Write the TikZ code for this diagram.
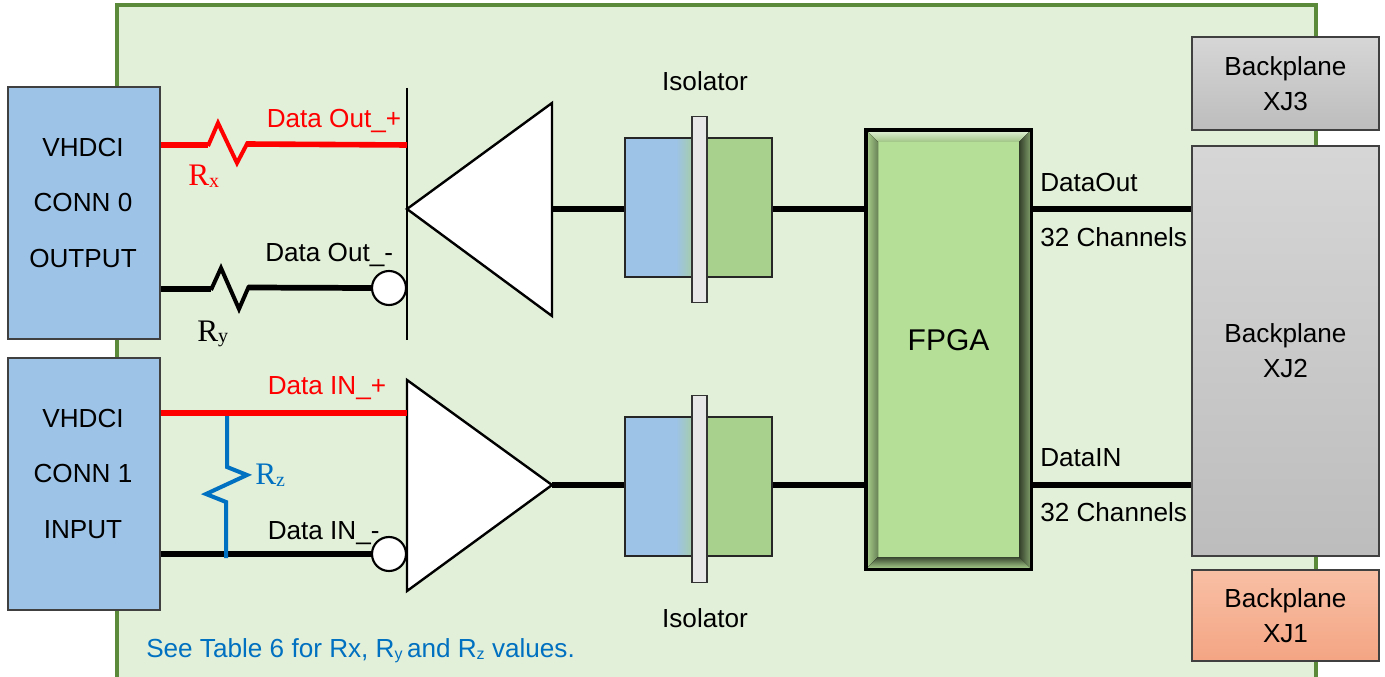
\documentclass[tikz,border=0pt]{standalone}
\usepackage{fontspec}
\setmainfont{Liberation Sans}
\newfontfamily\serifrm{Liberation Serif}
\definecolor{panelfill}{HTML}{E2EFD9}
\definecolor{panelline}{HTML}{5B8A3A}
\definecolor{connblue}{HTML}{9DC3E6}
\definecolor{isogreen}{HTML}{A9D18E}
\definecolor{barfill}{HTML}{E7E7E7}
\definecolor{fpgafill}{HTML}{B5DF96}
\definecolor{rzblue}{HTML}{0070C0}
\definecolor{salmontop}{HTML}{F8BFA5}
\definecolor{salmonbot}{HTML}{F4A583}
\newcommand{\txt}{\fontsize{19.6}{19.6}\selectfont}
\newcommand{\Rsym}[1]{{\serifrm\fontsize{23.5}{23.5}\selectfont R\raisebox{-1.5pt}{\fontsize{15}{15}\selectfont #1}}}
\newcommand{\rsm}[1]{{\txt R\raisebox{-2pt}{\fontsize{12}{12}\selectfont #1}}}
\tikzset{
  x=0.75pt,y=-0.75pt,
  connbox/.style={draw=black!75,line width=1pt,fill=connblue,inner sep=0pt,minimum width=114pt,minimum height=189pt},
  bpbox/.style={draw=black!75,line width=1pt,inner sep=0pt,minimum width=140.25pt},
  bpgray/.style={bpbox,top color=black!16,bottom color=black!26},
  bporange/.style={bpbox,top color=salmontop,bottom color=salmonbot},
  isobox/.style={draw=black!85,line width=0.8pt,inner sep=0pt,minimum width=110.25pt,minimum height=104.25pt},
  isobar/.style={draw=black!80,line width=0.8pt,fill=barfill,inner sep=0pt,minimum width=11.25pt,minimum height=140pt},
  bubble/.style={circle,draw=black,line width=1.6pt,fill=white,inner sep=0pt,minimum size=25.5pt},
  amp/.style={draw=black,line width=1.8pt,fill=white,line join=miter},
  wire/.style={line width=4.3pt,black},
  redwire/.style={line width=4.2pt,red},
  thinres/.style={line width=3pt,line join=miter},
  lab/.style={inner sep=0pt,anchor=base west,font=\txt},
  clab/.style={inner sep=0pt,font=\txt},
  stack3/.style={inner sep=0pt,align=center,font=\fontsize{19.6}{41.6}\selectfont},
  stack2/.style={inner sep=0pt,align=center,font=\fontsize{19.6}{26.2}\selectfont},
  fpgaline/.style={draw=black,line width=2.3pt},
}
\begin{document}
\begin{tikzpicture}
\useasboundingbox (0,0) rectangle (1385,677);
% board
\node[draw=panelline,line width=3pt,fill=panelfill,inner sep=0pt,minimum width=899.25pt,minimum height=505.2pt] (board) at (716.5,341.8) {};

% FPGA with bevel
\node[fill=fpgafill,inner sep=0pt,outer sep=0pt,minimum width=124.1pt,minimum height=329.6pt] (fpga) at (948.75,349.75) {};
\fill[top color=fpgafill!35!white,bottom color=fpgafill!88!black] (866,130) -- (1031,130) -- (1019,142) -- (878,142) -- cycle;
\fill[left color=fpgafill!95!black,right color=fpgafill!58!black] (866,130) -- (878,142) -- (878,557) -- (866,569) -- cycle;
\fill[left color=fpgafill!28!black,right color=fpgafill!72!black] (1019,142) -- (1031,130) -- (1031,569) -- (1019,557) -- cycle;
\fill[top color=fpgafill!32!black,bottom color=fpgafill!95!black] (878,557) -- (1019,557) -- (1031,569) -- (866,569) -- cycle;
\draw[fpgaline] (fpga.north west) rectangle (fpga.south east);
\node[inner sep=0pt,font=\fontsize{22.5}{22.5}\selectfont] (fpgatext) at (948.5,340) {FPGA};

% isolators
\fill[connblue] (625,138) rectangle (677,277);
\fill[left color=connblue,right color=isogreen] (676.5,138) rectangle (700,277);
\fill[isogreen] (700,138) rectangle (772,277);
\node[isobox] (iso1) at (698.5,207.5) {};
\node[isobar] (bar1) at (699.5,209.5) {};
\fill[connblue] (625,417) rectangle (677,556);
\fill[left color=connblue,right color=isogreen] (676.5,417) rectangle (700,556);
\fill[isogreen] (700,417) rectangle (772,556);
\node[isobox] (iso2) at (698.5,486.5) {};
\node[isobar] (bar2) at (699.5,489) {};
\node[clab] (isoL1) at (705,81) {Isolator};
\node[clab] (isoL2) at (705,618) {Isolator};

% connectors and backplanes
\node[connbox] (conn0) at (84,213) {};
\node[stack3] (conn0t) at (83,203) {VHDCI\\CONN 0\\OUTPUT};
\node[connbox] (conn1) at (84,484) {};
\node[stack3] (conn1t) at (83,474) {VHDCI\\CONN 1\\INPUT};
\node[bpgray,minimum height=69.75pt] (xj3) at (1285.5,83.5) {};
\node[stack2] (xj3t) at (1285.5,84) {Backplane\\XJ3};
\node[bpgray,minimum height=307.5pt] (xj2) at (1285.5,351) {};
\node[stack2] (xj2t) at (1285.5,351) {Backplane\\XJ2};
\node[bporange,minimum height=68.25pt] (xj1) at (1285.5,615.5) {};
\node[stack2] (xj1t) at (1285.5,616) {Backplane\\XJ1};

% driver
\coordinate (drvTop) at (407,88);
\coordinate (drvBot) at (407,340);
\coordinate (drvApex) at (407,209);
\coordinate (drvA) at (552,103);
\coordinate (drvB) at (552,316);
\draw[line width=2pt] (drvTop) -- (drvBot);
\draw[amp] (drvApex) -- (drvA) -- (drvB) -- cycle;
% receiver
\coordinate (recA) at (407,380);
\coordinate (recB) at (407,591);
\coordinate (recApex) at (552,485);
\draw[amp] (recA) -- (recApex) -- (recB) -- cycle;

% data wires
\draw[wire] (drvA |- drvApex) -- (iso1.west |- drvApex);
\draw[wire] (iso1.east |- drvApex) -- (fpga.west |- drvApex);
\draw[wire] (fpga.east |- drvApex) -- (xj2.west |- drvApex);
\draw[wire] (recApex) -- (iso2.west |- recApex);
\draw[wire] (iso2.east |- recApex) -- (fpga.west |- recApex);
\draw[wire] (fpga.east |- recApex) -- (xj2.west |- recApex);

% inverting bubbles
\node[bubble] (bub1) at (389,288) {};
\node[bubble] (bub2) at (389,554) {};

% Rx
\coordinate (rxS) at (conn0.east |- 0,145);
\coordinate (rxE) at (drvTop |- 0,145);
\draw[redwire] (rxS) -- (208,145);
\draw[red,thinres] (208,146) -- (218,123) -- (237,163) -- (248,142);
\draw[redwire] (247,144) -- (rxE);
% Ry
\coordinate (ryS) at (conn0.east |- 0,289);
\draw[wire] (ryS) -- (211,289);
\draw[black,thinres] (211,290) -- (221,268) -- (239,309) -- (249,286);
\draw[wire] (248,287.5) -- (bub1.west);
% input wires
\coordinate (inPs) at (conn1.east |- 0,413);
\coordinate (inPe) at (recA |- 0,413);
\coordinate (inNs) at (conn1.east |- bub2);
\draw[wire] (inNs) -- (bub2.west);
\draw[rzblue,line width=3pt,line join=miter] (227,413) -- (227,467) -- (247,475) -- (206,494) -- (226,502) -- (226,558);
\draw[redwire] (inPs) -- (inPe);

% labels
\node[lab,text=red] (lDOp) at (266.5,127.5) {Data Out\_+};
\node[lab] (lDOm) at (265,262) {Data Out\_-};
\node[lab,text=red] (lDIp) at (267.5,394) {Data IN\_+};
\node[lab] (lDIm) at (267.5,539) {Data IN\_-};
\node[lab] (lDO) at (1040,192) {DataOut};
\node[lab] (lC1) at (1040,247) {32 Channels};
\node[lab] (lDI) at (1040,466) {DataIN};
\node[lab] (lC2) at (1040,521) {32 Channels};
\node[inner sep=0pt,anchor=base west,text=red] (lRx) at (188,185.5) {\Rsym{x}};
\node[inner sep=0pt,anchor=base west] (lRy) at (197,341) {\Rsym{y}};
\node[inner sep=0pt,anchor=base west,text=rzblue] (lRz) at (255,484) {\Rsym{z}};
\node[lab,text=rzblue] (note) at (146,657) {See Table 6 for Rx, \rsm{y}\,and \rsm{z} values.};
\end{tikzpicture}
\end{document}
